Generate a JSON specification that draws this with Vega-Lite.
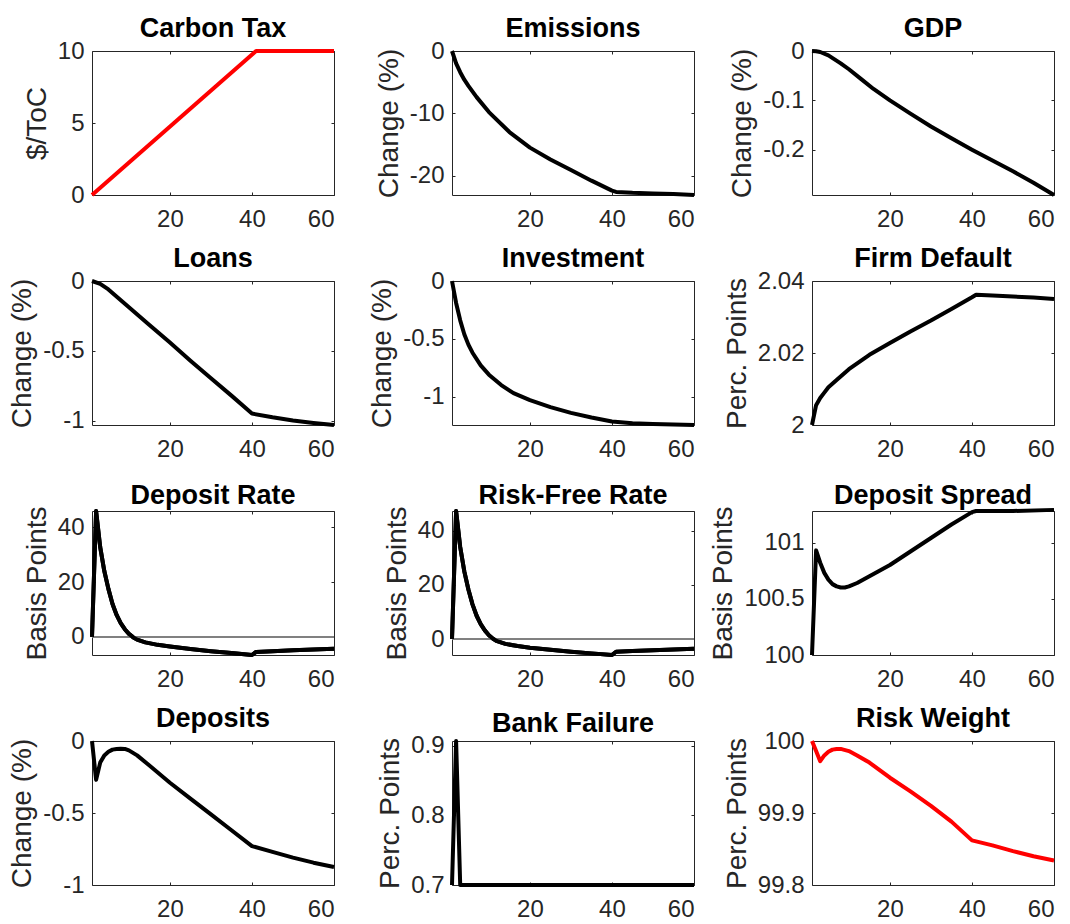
{
  "$schema": "https://vega.github.io/schema/vega-lite/v6.json",
  "background": "white",
  "padding": {"left": 8, "top": 14, "right": 5, "bottom": 5},
  "config": {
    "font": "Liberation Sans",
    "view": {"stroke": "#262626", "strokeWidth": 1},
    "axis": {"domain": false, "grid": false, "labelFont": "Liberation Sans", "labelFontSize": 24, "labelColor": "#262626", "tickColor": "#262626", "tickSize": -3, "tickWidth": 1, "titleFont": "Liberation Sans", "titleFontSize": 28, "titleFontWeight": "normal", "titleColor": "#262626", "titlePadding": 6},
    "axisX": {"labelPadding": 15},
    "axisY": {"labelPadding": 11},
    "title": {"font": "Liberation Sans", "fontSize": 27, "fontWeight": "bold", "color": "#000000", "offset": -4, "baseline": "alphabetic"},
    "line": {"strokeWidth": 4, "strokeJoin": "round"}
  },
  "datasets": {
    "carbon": [{"t":1,"v":0},{"t":11,"v":2.5},{"t":21,"v":5},{"t":31,"v":7.5},{"t":41,"v":10},{"t":50,"v":10},{"t":60,"v":10}],
    "emis": [{"t":1,"v":0},{"t":2,"v":-2.0},{"t":3,"v":-3.4},{"t":4,"v":-4.6},{"t":5,"v":-5.6},{"t":7,"v":-7.4},{"t":10,"v":-9.8},{"t":15,"v":-13.0},{"t":20,"v":-15.5},{"t":25,"v":-17.4},{"t":30,"v":-19.1},{"t":35,"v":-20.8},{"t":40,"v":-22.4},{"t":41,"v":-22.6},{"t":45,"v":-22.75},{"t":50,"v":-22.85},{"t":55,"v":-22.95},{"t":60,"v":-23.1}],
    "gdp": [{"t":1,"v":0},{"t":2,"v":-0.0005},{"t":3,"v":-0.002},{"t":5,"v":-0.009},{"t":8,"v":-0.025},{"t":10,"v":-0.037},{"t":13,"v":-0.057},{"t":16,"v":-0.077},{"t":20,"v":-0.1},{"t":25,"v":-0.127},{"t":30,"v":-0.153},{"t":35,"v":-0.177},{"t":40,"v":-0.2},{"t":45,"v":-0.222},{"t":50,"v":-0.244},{"t":55,"v":-0.267},{"t":60,"v":-0.292}],
    "loans": [{"t":1,"v":0},{"t":3,"v":-0.02},{"t":5,"v":-0.06},{"t":10,"v":-0.187},{"t":15,"v":-0.314},{"t":20,"v":-0.44},{"t":25,"v":-0.57},{"t":30,"v":-0.695},{"t":35,"v":-0.82},{"t":40,"v":-0.948},{"t":45,"v":-0.975},{"t":50,"v":-0.998},{"t":55,"v":-1.015},{"t":60,"v":-1.03}],
    "invest": [{"t":1,"v":0},{"t":2,"v":-0.19},{"t":3,"v":-0.34},{"t":4,"v":-0.46},{"t":5,"v":-0.55},{"t":6,"v":-0.62},{"t":8,"v":-0.73},{"t":10,"v":-0.81},{"t":13,"v":-0.9},{"t":16,"v":-0.97},{"t":20,"v":-1.03},{"t":25,"v":-1.09},{"t":30,"v":-1.14},{"t":35,"v":-1.18},{"t":40,"v":-1.215},{"t":45,"v":-1.23},{"t":50,"v":-1.237},{"t":60,"v":-1.245}],
    "firm": [{"t":1,"v":2.0},{"t":2,"v":2.0055},{"t":3,"v":2.0075},{"t":4,"v":2.009},{"t":5,"v":2.0105},{"t":7,"v":2.0125},{"t":10,"v":2.0155},{"t":15,"v":2.0195},{"t":20,"v":2.0228},{"t":25,"v":2.026},{"t":30,"v":2.029},{"t":35,"v":2.0322},{"t":40,"v":2.0355},{"t":41,"v":2.0362},{"t":45,"v":2.036},{"t":50,"v":2.0357},{"t":55,"v":2.0354},{"t":60,"v":2.035}],
    "deprate": [{"t":1,"v":0},{"t":2,"v":45.9},{"t":3,"v":32.7},{"t":4,"v":24},{"t":5,"v":17.5},{"t":6,"v":12},{"t":7,"v":8},{"t":8,"v":5},{"t":9,"v":2.8},{"t":10,"v":1.1},{"t":11,"v":-0.1},{"t":12,"v":-1.0},{"t":14,"v":-2.0},{"t":17,"v":-2.9},{"t":20,"v":-3.5},{"t":25,"v":-4.4},{"t":30,"v":-5.2},{"t":35,"v":-5.9},{"t":40,"v":-6.6},{"t":41,"v":-5.5},{"t":45,"v":-5.2},{"t":50,"v":-4.9},{"t":55,"v":-4.6},{"t":60,"v":-4.3}],
    "rfrate": [{"t":1,"v":0},{"t":2,"v":47.3},{"t":3,"v":34},{"t":4,"v":25},{"t":5,"v":18.3},{"t":6,"v":12.8},{"t":7,"v":8.6},{"t":8,"v":5.5},{"t":9,"v":3.2},{"t":10,"v":1.4},{"t":11,"v":0.1},{"t":12,"v":-0.8},{"t":14,"v":-1.8},{"t":17,"v":-2.6},{"t":20,"v":-3.2},{"t":25,"v":-4.0},{"t":30,"v":-4.7},{"t":35,"v":-5.3},{"t":40,"v":-5.9},{"t":41,"v":-4.7},{"t":45,"v":-4.4},{"t":50,"v":-4.1},{"t":55,"v":-3.85},{"t":60,"v":-3.6}],
    "spread": [{"t":1,"v":100.0},{"t":2,"v":100.93},{"t":3,"v":100.82},{"t":4,"v":100.73},{"t":5,"v":100.67},{"t":6,"v":100.63},{"t":7,"v":100.61},{"t":8,"v":100.6},{"t":9,"v":100.6},{"t":10,"v":100.61},{"t":12,"v":100.64},{"t":15,"v":100.7},{"t":20,"v":100.8},{"t":25,"v":100.92},{"t":30,"v":101.04},{"t":35,"v":101.16},{"t":40,"v":101.27},{"t":41,"v":101.28},{"t":50,"v":101.28},{"t":60,"v":101.29}],
    "deposits": [{"t":1,"v":0},{"t":2,"v":-0.27},{"t":3,"v":-0.15},{"t":4,"v":-0.1},{"t":5,"v":-0.075},{"t":6,"v":-0.06},{"t":7,"v":-0.055},{"t":8,"v":-0.053},{"t":9,"v":-0.055},{"t":10,"v":-0.065},{"t":12,"v":-0.1},{"t":15,"v":-0.17},{"t":20,"v":-0.29},{"t":25,"v":-0.4},{"t":30,"v":-0.51},{"t":35,"v":-0.62},{"t":40,"v":-0.73},{"t":45,"v":-0.77},{"t":50,"v":-0.81},{"t":55,"v":-0.845},{"t":60,"v":-0.875}],
    "bank": [{"t":1,"v":0.7},{"t":2,"v":0.907},{"t":3,"v":0.7},{"t":20,"v":0.7},{"t":40,"v":0.7},{"t":60,"v":0.7}],
    "risk": [{"t":1,"v":100.0},{"t":2,"v":99.986},{"t":3,"v":99.972},{"t":4,"v":99.98},{"t":5,"v":99.985},{"t":6,"v":99.988},{"t":7,"v":99.989},{"t":8,"v":99.989},{"t":10,"v":99.986},{"t":12,"v":99.98},{"t":15,"v":99.97},{"t":20,"v":99.949},{"t":25,"v":99.93},{"t":30,"v":99.91},{"t":35,"v":99.888},{"t":40,"v":99.862},{"t":45,"v":99.855},{"t":50,"v":99.847},{"t":55,"v":99.84},{"t":60,"v":99.834}]
  },
  "columns": 3,
  "spacing": {"row": 86, "column": 118},
  "bounds": "flush",
  "concat": [
    {"title": "Carbon Tax", "width": 242, "height": 144, "data": {"name": "carbon"},
     "layer": [
       {"mark": {"type": "line", "stroke": "#ff0000"},
        "encoding": {"x": {"field": "t", "type": "quantitative", "scale": {"domain": [1, 60], "nice": false}, "axis": {"orient": "bottom", "values": [20, 40, 60], "title": null, "labelExpr": "'' + datum.value"}},
                     "y": {"field": "v", "type": "quantitative", "scale": {"domain": [0, 10], "nice": false, "zero": false}, "axis": {"orient": "left", "values": [0, 5, 10], "title": "$/ToC", "labelExpr": "'' + datum.value"}}}},
       {"mark": {"type": "line", "opacity": 0},
        "encoding": {"x": {"field": "t", "type": "quantitative", "axis": {"orient": "top", "values": [20, 40, 60], "labels": false, "title": null, "minExtent": 0, "maxExtent": 0}},
                     "y": {"field": "v", "type": "quantitative", "axis": {"orient": "right", "values": [0, 5, 10], "labels": false, "title": null, "minExtent": 0, "maxExtent": 0}}}}
     ],
     "resolve": {"axis": {"x": "independent", "y": "independent"}}},
    {"title": "Emissions", "width": 242, "height": 144, "data": {"name": "emis"},
     "layer": [
       {"mark": {"type": "line", "stroke": "#000000"},
        "encoding": {"x": {"field": "t", "type": "quantitative", "scale": {"domain": [1, 60], "nice": false}, "axis": {"orient": "bottom", "values": [20, 40, 60], "title": null, "labelExpr": "'' + datum.value"}},
                     "y": {"field": "v", "type": "quantitative", "scale": {"domain": [-23.1, 0], "nice": false, "zero": false}, "axis": {"orient": "left", "values": [-20, -10, 0], "title": "Change (%)", "labelExpr": "'' + datum.value"}}}},
       {"mark": {"type": "line", "opacity": 0},
        "encoding": {"x": {"field": "t", "type": "quantitative", "axis": {"orient": "top", "values": [20, 40, 60], "labels": false, "title": null, "minExtent": 0, "maxExtent": 0}},
                     "y": {"field": "v", "type": "quantitative", "axis": {"orient": "right", "values": [-20, -10, 0], "labels": false, "title": null, "minExtent": 0, "maxExtent": 0}}}}
     ],
     "resolve": {"axis": {"x": "independent", "y": "independent"}}},
    {"title": "GDP", "width": 242, "height": 144, "data": {"name": "gdp"},
     "layer": [
       {"mark": {"type": "line", "stroke": "#000000"},
        "encoding": {"x": {"field": "t", "type": "quantitative", "scale": {"domain": [1, 60], "nice": false}, "axis": {"orient": "bottom", "values": [20, 40, 60], "title": null, "labelExpr": "'' + datum.value"}},
                     "y": {"field": "v", "type": "quantitative", "scale": {"domain": [-0.292, 0], "nice": false, "zero": false}, "axis": {"orient": "left", "values": [-0.2, -0.1, 0], "title": "Change (%)", "labelExpr": "'' + datum.value"}}}},
       {"mark": {"type": "line", "opacity": 0},
        "encoding": {"x": {"field": "t", "type": "quantitative", "axis": {"orient": "top", "values": [20, 40, 60], "labels": false, "title": null, "minExtent": 0, "maxExtent": 0}},
                     "y": {"field": "v", "type": "quantitative", "axis": {"orient": "right", "values": [-0.2, -0.1, 0], "labels": false, "title": null, "minExtent": 0, "maxExtent": 0}}}}
     ],
     "resolve": {"axis": {"x": "independent", "y": "independent"}}},
    {"title": "Loans", "width": 242, "height": 144, "data": {"name": "loans"},
     "layer": [
       {"mark": {"type": "line", "stroke": "#000000"},
        "encoding": {"x": {"field": "t", "type": "quantitative", "scale": {"domain": [1, 60], "nice": false}, "axis": {"orient": "bottom", "values": [20, 40, 60], "title": null, "labelExpr": "'' + datum.value"}},
                     "y": {"field": "v", "type": "quantitative", "scale": {"domain": [-1.03, 0], "nice": false, "zero": false}, "axis": {"orient": "left", "values": [-1, -0.5, 0], "title": "Change (%)", "labelExpr": "'' + datum.value"}}}},
       {"mark": {"type": "line", "opacity": 0},
        "encoding": {"x": {"field": "t", "type": "quantitative", "axis": {"orient": "top", "values": [20, 40, 60], "labels": false, "title": null, "minExtent": 0, "maxExtent": 0}},
                     "y": {"field": "v", "type": "quantitative", "axis": {"orient": "right", "values": [-1, -0.5, 0], "labels": false, "title": null, "minExtent": 0, "maxExtent": 0}}}}
     ],
     "resolve": {"axis": {"x": "independent", "y": "independent"}}},
    {"title": "Investment", "width": 242, "height": 144, "data": {"name": "invest"},
     "layer": [
       {"mark": {"type": "line", "stroke": "#000000"},
        "encoding": {"x": {"field": "t", "type": "quantitative", "scale": {"domain": [1, 60], "nice": false}, "axis": {"orient": "bottom", "values": [20, 40, 60], "title": null, "labelExpr": "'' + datum.value"}},
                     "y": {"field": "v", "type": "quantitative", "scale": {"domain": [-1.245, 0], "nice": false, "zero": false}, "axis": {"orient": "left", "values": [-1, -0.5, 0], "title": "Change (%)", "labelExpr": "'' + datum.value"}}}},
       {"mark": {"type": "line", "opacity": 0},
        "encoding": {"x": {"field": "t", "type": "quantitative", "axis": {"orient": "top", "values": [20, 40, 60], "labels": false, "title": null, "minExtent": 0, "maxExtent": 0}},
                     "y": {"field": "v", "type": "quantitative", "axis": {"orient": "right", "values": [-1, -0.5, 0], "labels": false, "title": null, "minExtent": 0, "maxExtent": 0}}}}
     ],
     "resolve": {"axis": {"x": "independent", "y": "independent"}}},
    {"title": "Firm Default", "width": 242, "height": 144, "data": {"name": "firm"},
     "layer": [
       {"mark": {"type": "line", "stroke": "#000000"},
        "encoding": {"x": {"field": "t", "type": "quantitative", "scale": {"domain": [1, 60], "nice": false}, "axis": {"orient": "bottom", "values": [20, 40, 60], "title": null, "labelExpr": "'' + datum.value"}},
                     "y": {"field": "v", "type": "quantitative", "scale": {"domain": [2, 2.04], "nice": false, "zero": false}, "axis": {"orient": "left", "values": [2, 2.02, 2.04], "title": "Perc. Points", "labelExpr": "'' + datum.value"}}}},
       {"mark": {"type": "line", "opacity": 0},
        "encoding": {"x": {"field": "t", "type": "quantitative", "axis": {"orient": "top", "values": [20, 40, 60], "labels": false, "title": null, "minExtent": 0, "maxExtent": 0}},
                     "y": {"field": "v", "type": "quantitative", "axis": {"orient": "right", "values": [2, 2.02, 2.04], "labels": false, "title": null, "minExtent": 0, "maxExtent": 0}}}}
     ],
     "resolve": {"axis": {"x": "independent", "y": "independent"}}},
    {"title": "Deposit Rate", "width": 242, "height": 144, "data": {"name": "deprate"},
     "layer": [
       {"mark": {"type": "line", "stroke": "#000000"},
        "encoding": {"x": {"field": "t", "type": "quantitative", "scale": {"domain": [1, 60], "nice": false}, "axis": {"orient": "bottom", "values": [20, 40, 60], "title": null, "labelExpr": "'' + datum.value"}},
                     "y": {"field": "v", "type": "quantitative", "scale": {"domain": [-6.6, 45.9], "nice": false, "zero": false}, "axis": {"orient": "left", "values": [0, 20, 40], "title": "Basis Points", "labelExpr": "'' + datum.value"}}}},
       {"mark": {"type": "rule", "stroke": "#808080", "strokeWidth": 1},
        "encoding": {"y": {"datum": 0, "type": "quantitative", "axis": null}}},
       {"mark": {"type": "line", "stroke": "#000000"},
        "encoding": {"x": {"field": "t", "type": "quantitative", "axis": {"orient": "top", "values": [20, 40, 60], "labels": false, "title": null, "minExtent": 0, "maxExtent": 0}},
                     "y": {"field": "v", "type": "quantitative", "axis": {"orient": "right", "values": [0, 20, 40], "labels": false, "title": null, "minExtent": 0, "maxExtent": 0}}}}
     ],
     "resolve": {"axis": {"x": "independent", "y": "independent"}}},
    {"title": "Risk-Free Rate", "width": 242, "height": 144, "data": {"name": "rfrate"},
     "layer": [
       {"mark": {"type": "line", "stroke": "#000000"},
        "encoding": {"x": {"field": "t", "type": "quantitative", "scale": {"domain": [1, 60], "nice": false}, "axis": {"orient": "bottom", "values": [20, 40, 60], "title": null, "labelExpr": "'' + datum.value"}},
                     "y": {"field": "v", "type": "quantitative", "scale": {"domain": [-5.9, 47.3], "nice": false, "zero": false}, "axis": {"orient": "left", "values": [0, 20, 40], "title": "Basis Points", "labelExpr": "'' + datum.value"}}}},
       {"mark": {"type": "rule", "stroke": "#808080", "strokeWidth": 1},
        "encoding": {"y": {"datum": 0, "type": "quantitative", "axis": null}}},
       {"mark": {"type": "line", "stroke": "#000000"},
        "encoding": {"x": {"field": "t", "type": "quantitative", "axis": {"orient": "top", "values": [20, 40, 60], "labels": false, "title": null, "minExtent": 0, "maxExtent": 0}},
                     "y": {"field": "v", "type": "quantitative", "axis": {"orient": "right", "values": [0, 20, 40], "labels": false, "title": null, "minExtent": 0, "maxExtent": 0}}}}
     ],
     "resolve": {"axis": {"x": "independent", "y": "independent"}}},
    {"title": "Deposit Spread", "width": 242, "height": 144, "data": {"name": "spread"},
     "layer": [
       {"mark": {"type": "line", "stroke": "#000000"},
        "encoding": {"x": {"field": "t", "type": "quantitative", "scale": {"domain": [1, 60], "nice": false}, "axis": {"orient": "bottom", "values": [20, 40, 60], "title": null, "labelExpr": "'' + datum.value"}},
                     "y": {"field": "v", "type": "quantitative", "scale": {"domain": [100, 101.28], "nice": false, "zero": false}, "axis": {"orient": "left", "values": [100, 100.5, 101], "title": "Basis Points", "labelExpr": "'' + datum.value"}}}},
       {"mark": {"type": "line", "opacity": 0},
        "encoding": {"x": {"field": "t", "type": "quantitative", "axis": {"orient": "top", "values": [20, 40, 60], "labels": false, "title": null, "minExtent": 0, "maxExtent": 0}},
                     "y": {"field": "v", "type": "quantitative", "axis": {"orient": "right", "values": [100, 100.5, 101], "labels": false, "title": null, "minExtent": 0, "maxExtent": 0}}}}
     ],
     "resolve": {"axis": {"x": "independent", "y": "independent"}}},
    {"title": "Deposits", "width": 242, "height": 144, "data": {"name": "deposits"},
     "layer": [
       {"mark": {"type": "line", "stroke": "#000000"},
        "encoding": {"x": {"field": "t", "type": "quantitative", "scale": {"domain": [1, 60], "nice": false}, "axis": {"orient": "bottom", "values": [20, 40, 60], "title": null, "labelExpr": "'' + datum.value"}},
                     "y": {"field": "v", "type": "quantitative", "scale": {"domain": [-1, 0], "nice": false, "zero": false}, "axis": {"orient": "left", "values": [-1, -0.5, 0], "title": "Change (%)", "labelExpr": "'' + datum.value"}}}},
       {"mark": {"type": "line", "opacity": 0},
        "encoding": {"x": {"field": "t", "type": "quantitative", "axis": {"orient": "top", "values": [20, 40, 60], "labels": false, "title": null, "minExtent": 0, "maxExtent": 0}},
                     "y": {"field": "v", "type": "quantitative", "axis": {"orient": "right", "values": [-1, -0.5, 0], "labels": false, "title": null, "minExtent": 0, "maxExtent": 0}}}}
     ],
     "resolve": {"axis": {"x": "independent", "y": "independent"}}},
    {"title": "Bank Failure", "width": 242, "height": 144, "data": {"name": "bank"},
     "layer": [
       {"mark": {"type": "line", "stroke": "#000000"},
        "encoding": {"x": {"field": "t", "type": "quantitative", "scale": {"domain": [1, 60], "nice": false}, "axis": {"orient": "bottom", "values": [20, 40, 60], "title": null, "labelExpr": "'' + datum.value"}},
                     "y": {"field": "v", "type": "quantitative", "scale": {"domain": [0.7, 0.907], "nice": false, "zero": false}, "axis": {"orient": "left", "values": [0.7, 0.8, 0.9], "title": "Perc. Points", "labelExpr": "'' + datum.value"}}}},
       {"mark": {"type": "line", "opacity": 0},
        "encoding": {"x": {"field": "t", "type": "quantitative", "axis": {"orient": "top", "values": [20, 40, 60], "labels": false, "title": null, "minExtent": 0, "maxExtent": 0}},
                     "y": {"field": "v", "type": "quantitative", "axis": {"orient": "right", "values": [0.7, 0.8, 0.9], "labels": false, "title": null, "minExtent": 0, "maxExtent": 0}}}}
     ],
     "resolve": {"axis": {"x": "independent", "y": "independent"}}},
    {"title": "Risk Weight", "width": 242, "height": 144, "data": {"name": "risk"},
     "layer": [
       {"mark": {"type": "line", "stroke": "#ff0000"},
        "encoding": {"x": {"field": "t", "type": "quantitative", "scale": {"domain": [1, 60], "nice": false}, "axis": {"orient": "bottom", "values": [20, 40, 60], "title": null, "labelExpr": "'' + datum.value"}},
                     "y": {"field": "v", "type": "quantitative", "scale": {"domain": [99.8, 100], "nice": false, "zero": false}, "axis": {"orient": "left", "values": [99.8, 99.9, 100], "title": "Perc. Points", "labelExpr": "'' + datum.value"}}}},
       {"mark": {"type": "line", "opacity": 0},
        "encoding": {"x": {"field": "t", "type": "quantitative", "axis": {"orient": "top", "values": [20, 40, 60], "labels": false, "title": null, "minExtent": 0, "maxExtent": 0}},
                     "y": {"field": "v", "type": "quantitative", "axis": {"orient": "right", "values": [99.8, 99.9, 100], "labels": false, "title": null, "minExtent": 0, "maxExtent": 0}}}}
     ],
     "resolve": {"axis": {"x": "independent", "y": "independent"}}}
  ]
}
